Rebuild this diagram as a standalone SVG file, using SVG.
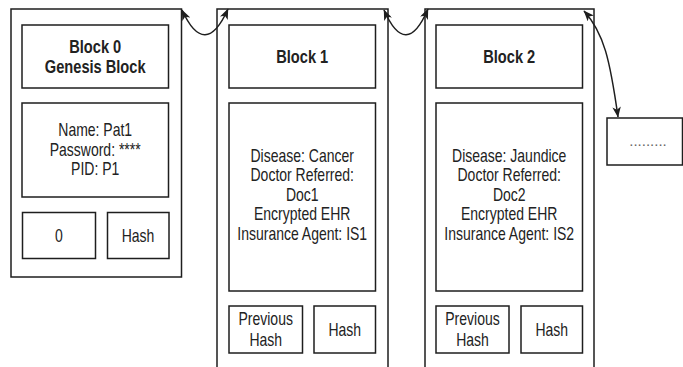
<svg xmlns="http://www.w3.org/2000/svg" width="683" height="367" viewBox="0 0 683 367">
<defs>
<style>
.box{fill:#fff;stroke:#1e1e1e;stroke-width:1.5}
.t{font-family:"Liberation Sans",Arial,sans-serif;font-size:17.5px;fill:#222;text-anchor:middle}
.b{font-weight:bold;font-size:19px}
.dots{font-family:"Liberation Sans",Arial,sans-serif;font-size:15px;fill:#666;text-anchor:middle}
.conn{fill:none;stroke:#1e1e1e;stroke-width:1.5}
</style>
<marker id="ah" viewBox="0 0 10 8" refX="9.5" refY="4" markerWidth="11" markerHeight="8.5" markerUnits="userSpaceOnUse" orient="auto-start-reverse">
<path d="M0,0 L10,4 L0,8 L2.5,4 z" fill="#1e1e1e"/>
</marker>
</defs>
<rect width="683" height="367" fill="#fff"/>

<g id="block0">
<rect class="box" x="11" y="9" width="170.5" height="268"/>
<rect class="box" x="22" y="25" width="146.5" height="63"/>
<text class="t b" transform="translate(95.2 0) scale(0.77 1)"><tspan x="0" y="53">Block 0</tspan><tspan x="0" y="73.5">Genesis Block</tspan></text>
<rect class="box" x="22" y="103" width="146.5" height="94"/>
<text class="t" transform="translate(95.2 0) scale(0.8 1)"><tspan x="0" y="136.5">Name: Pat1</tspan><tspan x="0" y="156">Password: ****</tspan><tspan x="0" y="175.5">PID: P1</tspan></text>
<rect class="box" x="22.5" y="212.5" width="73" height="46"/>
<text class="t" transform="translate(59 0) scale(0.8 1)"><tspan x="0" y="242">0</tspan></text>
<rect class="box" x="107.5" y="212.5" width="61.5" height="46"/>
<text class="t" transform="translate(138 0) scale(0.8 1)"><tspan x="0" y="242">Hash</tspan></text>
</g>

<g id="block1">
<rect class="box" x="217" y="9" width="171" height="380"/>
<rect class="box" x="229" y="25" width="146.5" height="63"/>
<text class="t b" transform="translate(302.2 0) scale(0.77 1)"><tspan x="0" y="63">Block 1</tspan></text>
<rect class="box" x="229" y="103" width="146.5" height="188"/>
<text class="t" transform="translate(302.2 0) scale(0.8 1)"><tspan x="0" y="162">Disease: Cancer</tspan><tspan x="0" y="181.5">Doctor Referred:</tspan><tspan x="0" y="201">Doc1</tspan><tspan x="0" y="220.5">Encrypted EHR</tspan><tspan x="0" y="240">Insurance Agent: IS1</tspan></text>
<rect class="box" x="229" y="306" width="73.5" height="47"/>
<text class="t" transform="translate(265.7 0) scale(0.8 1)"><tspan x="0" y="325.5">Previous</tspan><tspan x="0" y="346.5">Hash</tspan></text>
<rect class="box" x="314" y="306" width="61.5" height="47"/>
<text class="t" transform="translate(344.7 0) scale(0.8 1)"><tspan x="0" y="336">Hash</tspan></text>
</g>

<g id="block2">
<rect class="box" x="425" y="9" width="169" height="380"/>
<rect class="box" x="436" y="25" width="146.5" height="63"/>
<text class="t b" transform="translate(509.2 0) scale(0.77 1)"><tspan x="0" y="63">Block 2</tspan></text>
<rect class="box" x="436" y="103" width="146.5" height="188"/>
<text class="t" transform="translate(509.2 0) scale(0.8 1)"><tspan x="0" y="162">Disease: Jaundice</tspan><tspan x="0" y="181.5">Doctor Referred:</tspan><tspan x="0" y="201">Doc2</tspan><tspan x="0" y="220.5">Encrypted EHR</tspan><tspan x="0" y="240">Insurance Agent: IS2</tspan></text>
<rect class="box" x="436" y="306" width="73" height="47"/>
<text class="t" transform="translate(472.5 0) scale(0.8 1)"><tspan x="0" y="325.5">Previous</tspan><tspan x="0" y="346.5">Hash</tspan></text>
<rect class="box" x="521" y="306" width="61.5" height="47"/>
<text class="t" transform="translate(551.7 0) scale(0.8 1)"><tspan x="0" y="336">Hash</tspan></text>
</g>

<g id="next">
<rect class="box" x="607" y="118" width="75.5" height="47"/>
<text class="dots" x="648" y="146">.........</text>
</g>

<g id="connectors">
<path class="conn" d="M182,10 Q205,60 228,9" marker-start="url(#ah)" marker-end="url(#ah)"/>
<path class="conn" d="M384,10 Q406,60 428,9" marker-start="url(#ah)" marker-end="url(#ah)"/>
<path class="conn" d="M584,11 C604,33 610,60 618,117" marker-start="url(#ah)" marker-end="url(#ah)"/>
</g>
</svg>
